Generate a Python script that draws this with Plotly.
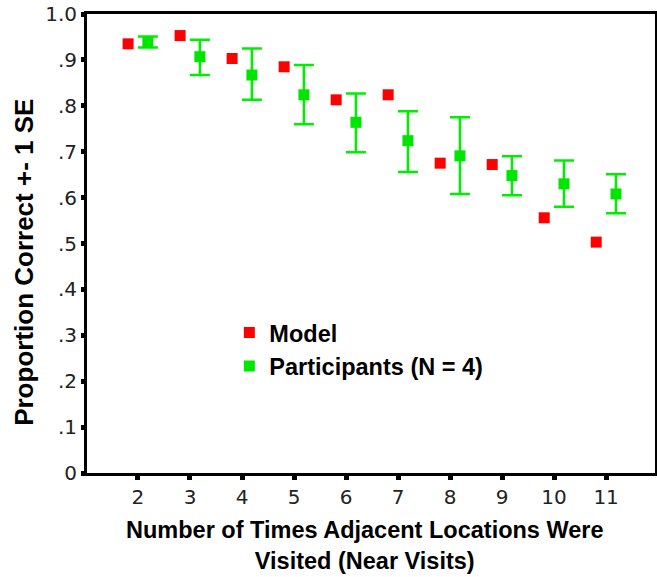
import plotly.graph_objects as go

visits = [2, 3, 4, 5, 6, 7, 8, 9, 10, 11]
model = [0.935, 0.953, 0.903, 0.885, 0.813, 0.824, 0.675, 0.672, 0.556, 0.503]
participants = [0.938, 0.907, 0.867, 0.824, 0.764, 0.724, 0.691, 0.648, 0.630, 0.608]
part_upper = [0.951, 0.944, 0.925, 0.889, 0.827, 0.788, 0.775, 0.690, 0.681, 0.651]
part_lower = [0.927, 0.867, 0.813, 0.760, 0.699, 0.656, 0.608, 0.605, 0.580, 0.566]
y_ticks = [0, 0.1, 0.2, 0.3, 0.4, 0.5, 0.6, 0.7, 0.8, 0.9, 1.0]
y_labels = ["0", ".1", ".2", ".3", ".4", ".5", ".6", ".7", ".8", ".9", "1.0"]
x_ticks = [2, 3, 4, 5, 6, 7, 8, 9, 10, 11]
x_labels = ["2", "3", "4", "5", "6", "7", "8", "9", "10", "11"]

# side-by-side placement of the two series around each category
model_offset = -0.19
part_offset = 0.19
err_plus = [u - p for u, p in zip(part_upper, participants)]
err_minus = [p - l for p, l in zip(participants, part_lower)]

fig = go.Figure()
fig.add_trace(go.Scatter(
    x=[v + model_offset for v in visits], y=model, mode="markers", name="Model",
    marker=dict(symbol="square", size=11, color="#ff0000"),
))
fig.add_trace(go.Scatter(
    x=[v + part_offset for v in visits], y=participants, mode="markers",
    name="Participants (N = 4)",
    marker=dict(symbol="square", size=11, color="#00e600"),
    error_y=dict(type="data", symmetric=False, array=err_plus, arrayminus=err_minus,
                 color="#00ee00", thickness=2.5, width=10),
))

tick_font = dict(family="DejaVu Sans", size=20, color="#222222")

fig.update_layout(
    width=657, height=577,
    margin=dict(l=87, r=2, t=14, b=104),
    plot_bgcolor="white", paper_bgcolor="white",
    showlegend=True,
    legend=dict(x=0.2506, y=0.3535, xanchor="left", yanchor="top",
                bgcolor="rgba(0,0,0,0)",
                font=dict(family="Liberation Sans", size=23.5, color="black", weight="bold"),
                tracegroupgap=0, itemwidth=30),
    xaxis=dict(range=[1.02, 11.94], showgrid=False, zeroline=False, automargin=False,
               showline=True, linecolor="black", linewidth=3, mirror=True,
               tickmode="array", tickvals=x_ticks, ticktext=x_labels,
               ticks="outside", ticklen=4, tickwidth=5, tickcolor="black",
               tickfont=tick_font),
    yaxis=dict(range=[0, 1.0], showgrid=False, zeroline=False, automargin=False,
               showline=True, linecolor="black", linewidth=3, mirror=True,
               tickmode="array", tickvals=y_ticks, ticktext=y_labels,
               ticks="outside", ticklen=3, tickwidth=5, tickcolor="black",
               tickfont=tick_font),
    annotations=[
        dict(text="<b>Number of Times Adjacent Locations Were<br>Visited (Near Visits)</b>",
             xref="paper", yref="paper", x=0.49, y=-0.092, xanchor="center", yanchor="top",
             showarrow=False, align="center",
             font=dict(family="Liberation Sans", size=23.5, color="black")),
        dict(text="<b>Proportion Correct +- 1 SE</b>", textangle=-90,
             xref="paper", yref="paper", x=-0.110, y=0.459, xanchor="center", yanchor="middle",
             showarrow=False,
             font=dict(family="Liberation Sans", size=26, color="black")),
    ],
)

fig.write_html("out.html", config={"displayModeBar": False},
               post_script="document.body.style.margin='0';")
